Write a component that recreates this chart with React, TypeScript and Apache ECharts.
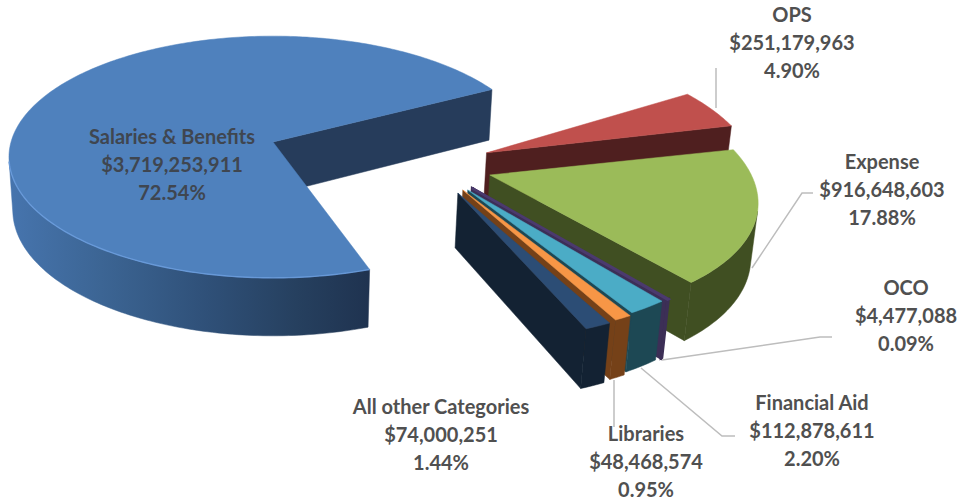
import React, { useEffect, useRef } from "react";
import * as echarts from "echarts";

// Budget categories, in pie order (clockwise)
const categories = ["Salaries & Benefits", "OPS", "Expense", "OCO", "Financial Aid", "Libraries", "All other Categories"];
const amounts = [3719253911, 251179963, 916648603, 4477088, 112878611, 48468574, 74000251];
const amountLabels = ["$3,719,253,911", "$251,179,963", "$916,648,603", "$4,477,088", "$112,878,611", "$48,468,574", "$74,000,251"];
const percentLabels = ["72.54%", "4.90%", "17.88%", "0.09%", "2.20%", "0.95%", "1.44%"];

// Appearance of each slice: top face, wall, outline width
const topColors = ["#4f81bd", "#c0504d", "#9bbb59", "#4b3a6e", "#4bacc6", "#f79646", "#2c4d75"];
const wallColors = ["#263c5b", "#4f1f1f", "#404f22", "#3c2f56", "#1d4854", "#754118", "#132233"];
const outlineWidths = [0.5, 0.5, 0.5, 2.5, 0.5, 0.5, 0.5];

// Ground-plane displacement of each slice's apex, its radius and its small rotation
const apexOffsets = [[0, 0], [0.806, 0.09], [0.8, 0.268], [0.725, 0.37], [0.708, 0.384], [0.69, 0.384], [0.67, 0.407]];
const radii = [1, 1, 0.965, 0.955, 0.95, 0.97, 0.965];
const angleNudges = [1, -2, -1, 0, 0, 0, 0];

// Where the first slice begins, clockwise from 3 o'clock in the ground plane
const START_DEG = 70;
const THICKNESS = 0.23;

// Perspective camera expressed as screen coefficients
const ORIGIN = [273, 142];
const SCALE_X = 262;
const SCALE_Y = 119;
const SCALE_Z = 233;
const PERSP_Y = 0.124;
const PERSP_Z = 0.063;
const CAMERA_Y = 6.4;

const project = (X: number, Y: number, Z: number): number[] => {
  const w = 1 - PERSP_Y * Y - PERSP_Z * Z;
  return [ORIGIN[0] + (SCALE_X * X) / w, ORIGIN[1] + (SCALE_Y * Y - SCALE_Z * Z) / w];
};

const total = amounts.reduce((a, b) => a + b, 0);
const rad = (d: number) => (d * Math.PI) / 180;

// Cumulative start angle of a slice
const sliceStart = (index: number) =>
  START_DEG + angleNudges[index] + (amounts.slice(0, index).reduce((a, b) => a + b, 0) / total) * 360;

const largestWallGradient = () =>
  new echarts.graphic.LinearGradient(
    12, 0, 368, 0,
    [
      { offset: 0, color: "#4674ad" },
      { offset: 0.25, color: "#3c6594" },
      { offset: 0.55, color: "#2f5078" },
      { offset: 0.8, color: "#26405f" },
      { offset: 1, color: "#1f3350" },
    ],
    true
  );

function renderSlice(params: any, api: any) {
  const i = params.dataIndex;
  const value = api.value(1);
  const a0 = sliceStart(i);
  const a1 = a0 + (value / total) * 360;
  const [ox, oy] = apexOffsets[i];
  const r = radii[i];
  const rim = (deg: number, z: number) =>
    project(ox + r * Math.cos(rad(deg)), oy + r * Math.sin(rad(deg)), z);
  const apex = (z: number) => project(ox, oy, z);

  const children: any[] = [];
  const stroke = (fill: string) => ({ fill, stroke: fill, lineWidth: outlineWidths[i] });

  // Radial walls, only where they face the camera
  const radialWall = (deg: number, normalDeg: number) => {
    const nx = Math.cos(rad(normalDeg));
    const ny = Math.sin(rad(normalDeg));
    if (-ox * nx + (CAMERA_Y - oy) * ny <= 0) return;
    children.push({
      type: "polygon",
      shape: { points: [apex(0), rim(deg, 0), rim(deg, -THICKNESS), apex(-THICKNESS)] },
      style: stroke(wallColors[i]),
    });
  };
  radialWall(a0, a0 - 90);
  radialWall(a1, a1 + 90);

  // Curved outer wall: the run of the rim that faces the camera
  const upper: number[][] = [];
  const lower: number[][] = [];
  const steps = Math.max(2, Math.ceil(a1 - a0));
  for (let s = 0; s <= steps; s++) {
    const deg = a0 + ((a1 - a0) * s) / steps;
    const nx = Math.cos(rad(deg));
    const ny = Math.sin(rad(deg));
    const px = ox + r * nx;
    const py = oy + r * ny;
    if (-px * nx + (CAMERA_Y - py) * ny > 0) {
      upper.push(rim(deg, 0));
      lower.push(rim(deg, -THICKNESS));
    }
  }
  if (upper.length > 1) {
    const fill: any = i === 0 ? largestWallGradient() : wallColors[i];
    children.push({
      type: "polygon",
      shape: { points: upper.concat(lower.slice().reverse()) },
      style: { fill, stroke: fill, lineWidth: outlineWidths[i] },
    });
  }

  // Top face
  const face: number[][] = [apex(0)];
  for (let s = 0; s <= steps; s++) face.push(rim(a0 + ((a1 - a0) * s) / steps, 0));
  children.push({ type: "polygon", shape: { points: face }, style: stroke(topColors[i]) });

  // Bevel highlight along the front rim of the largest slice
  if (i === 0 && upper.length > 1) {
    children.push({
      type: "polyline",
      shape: { points: upper },
      style: { fill: "none", stroke: "#6d9fe0", lineWidth: 1.4, opacity: 0.8 },
    });
  }
  return { type: "group", children };
}

// Label anchors: centre x, and centre y of the first of three lines
const labelCentreX = [172, 792, 882, 906, 812, 646, 441];
const labelFirstY = [136, 14, 161, 287, 402, 433, 406];
const LINE_STEP = 28;

// Leader lines from labels to slices
const leaderLines = [
  [[716, 68], [716, 108]],
  [[813, 193], [802, 193], [752, 268]],
  [[832, 337], [820, 337], [662, 360]],
  [[735, 436], [722, 436], [641, 368]],
  [[614, 380], [614, 427]],
];

export default function App() {
  const ref = useRef<HTMLDivElement>(null);

  useEffect(() => {
    const chart = echarts.init(ref.current!, null, { renderer: "svg" });
    const textElements: any[] = [];
    categories.forEach((name, i) => {
      [name, amountLabels[i], percentLabels[i]].forEach((line, j) => {
        textElements.push({
          type: "text",
          x: labelCentreX[i],
          y: labelFirstY[i] + j * LINE_STEP,
          z: 10,
          style: {
            text: line,
            fontFamily: "Lato",
            fontWeight: "bold",
            fontSize: 20,
            fill: i === 0 ? "#3f4650" : "#505050",
            align: "center",
            verticalAlign: "middle",
          },
        });
      });
    });
    const lineElements = leaderLines.map((points) => ({
      type: "polyline",
      z: 5,
      shape: { points },
      style: { fill: "none", stroke: "#bdbdbd", lineWidth: 1.5 },
    }));

    chart.setOption({
      animation: false,
      backgroundColor: "#ffffff",
      graphic: { elements: [...lineElements, ...textElements] },
      series: [
        {
          type: "custom",
          coordinateSystem: "none",
          silent: true,
          clip: false,
          renderItem: renderSlice,
          data: amounts.map((v, i) => [i, v]),
        },
      ],
    });
    return () => chart.dispose();
  }, []);

  return <div ref={ref} style={{ position: "fixed", left: 0, top: 0, width: 963, height: 503 }} />;
}
